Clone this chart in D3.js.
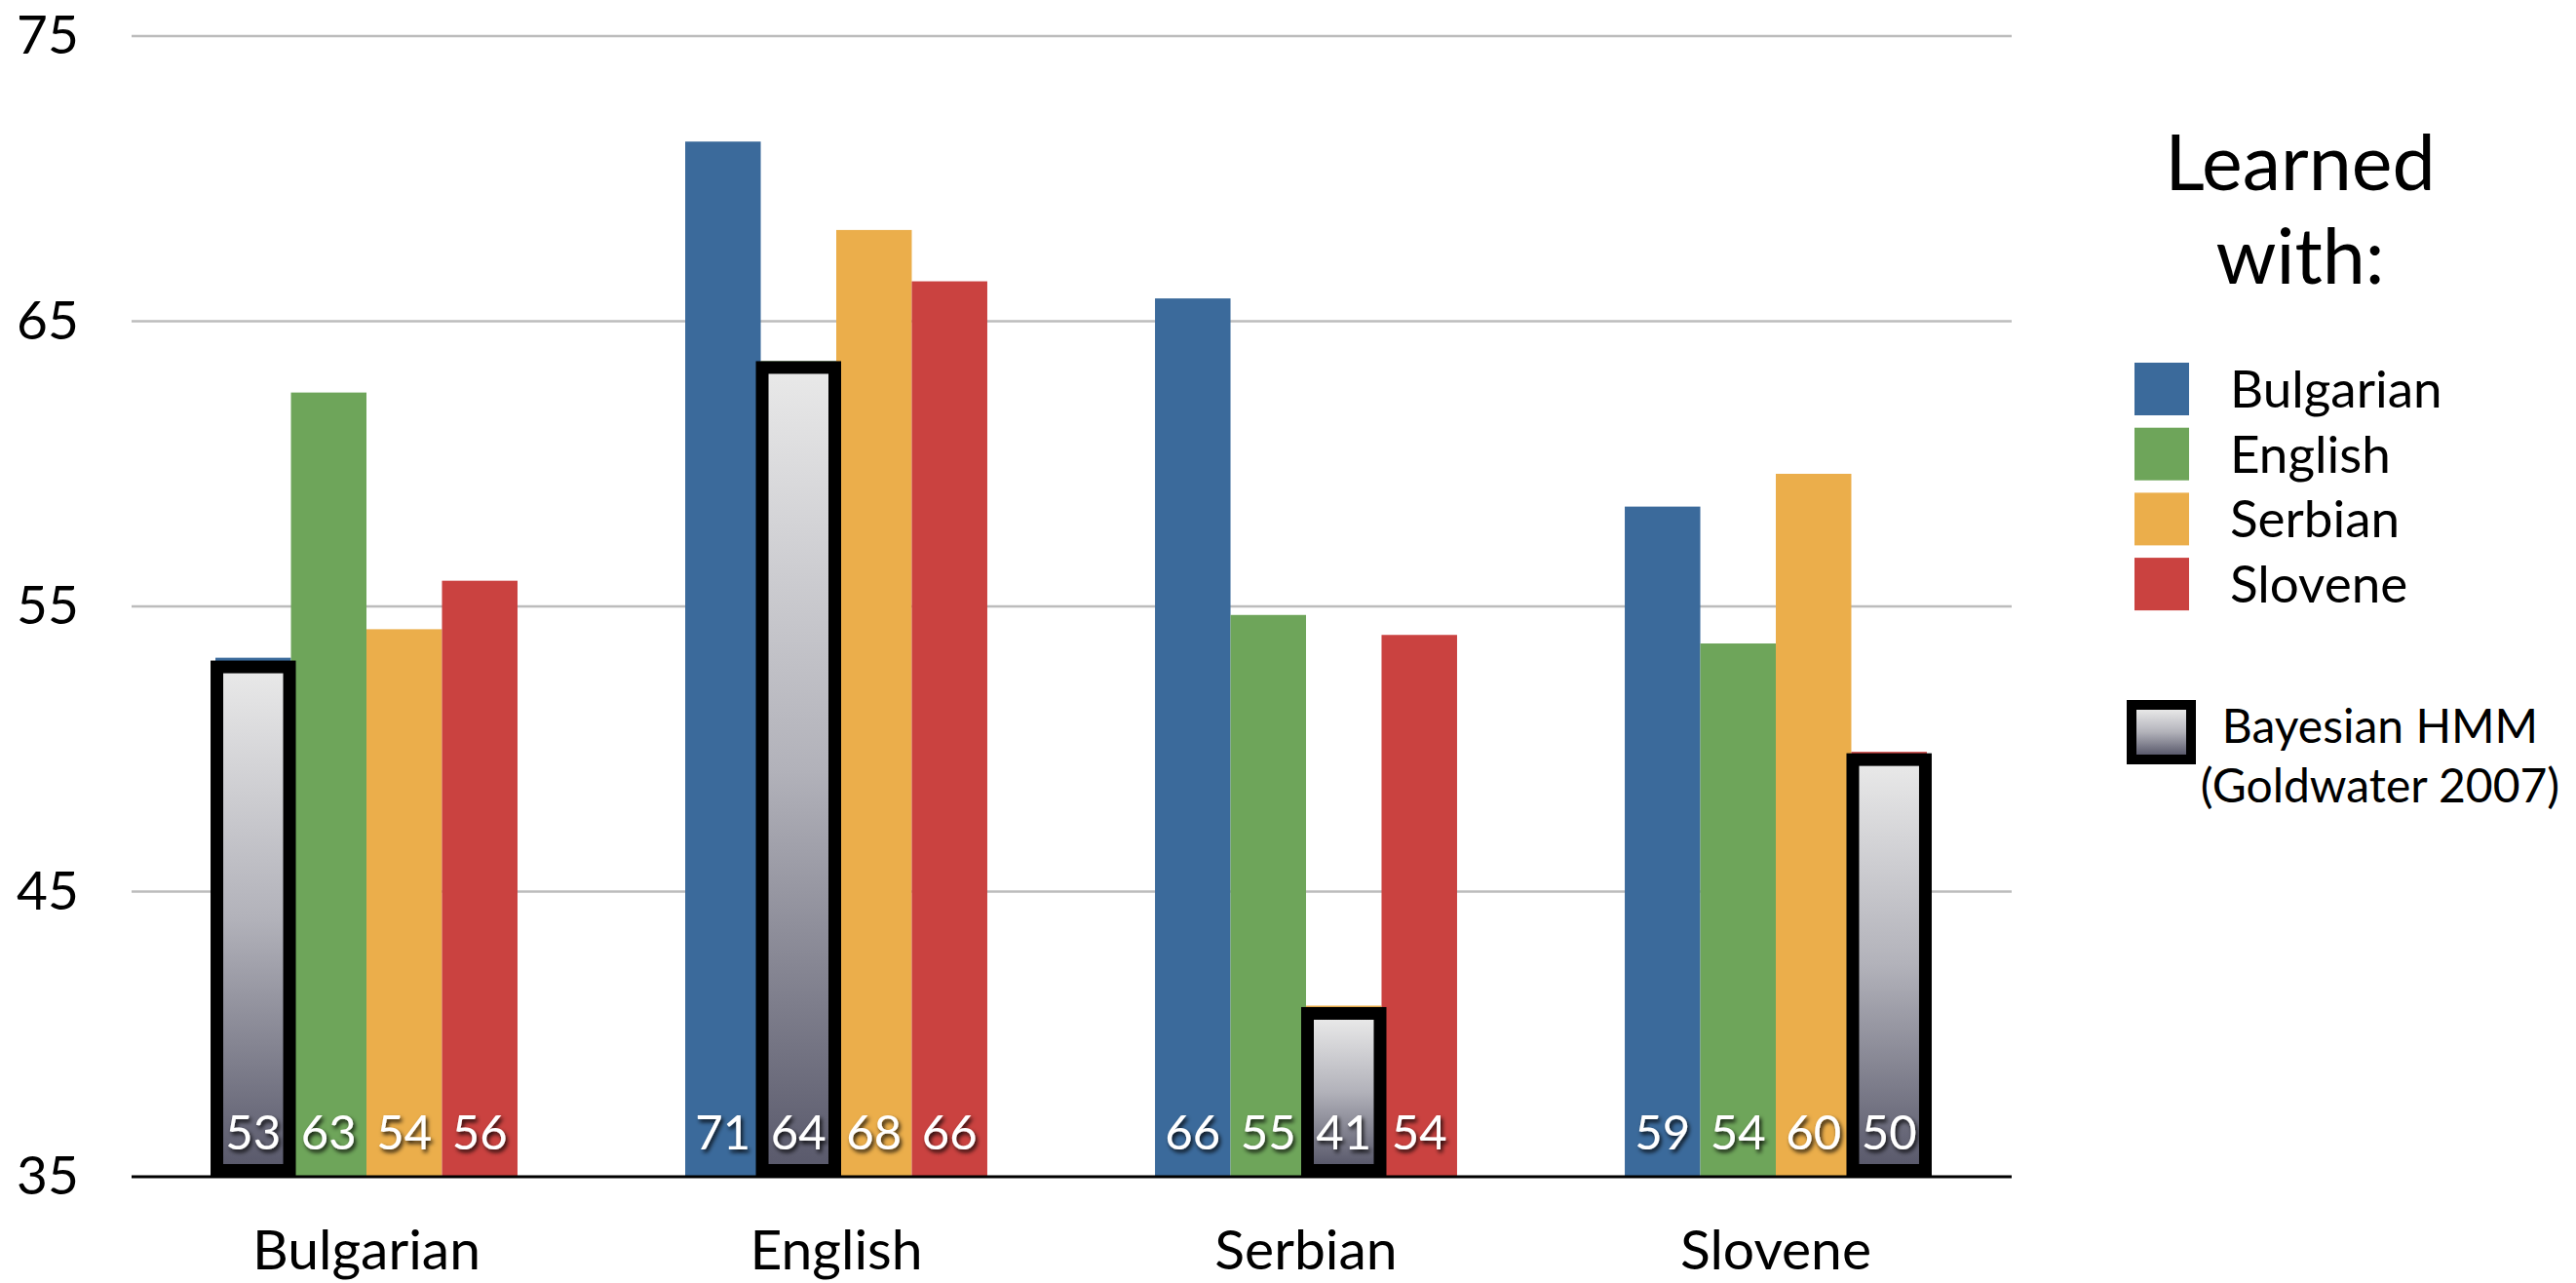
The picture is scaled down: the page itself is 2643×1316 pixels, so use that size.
<!DOCTYPE html>
<html>
<head>
<meta charset="utf-8">
<script src="https://cdn.jsdelivr.net/npm/d3@7"></script>
<style>
  body { margin: 0; background: #fff; }
  svg text { font-family: Lato, "Open Sans", sans-serif; }
</style>
</head>
<body>
<svg id="chart"></svg>
<script>
// test language groups along the x axis
const testLangs = ['Bulgarian', 'English', 'Serbian', 'Slovene'];
// "Learned with" series
const learnedWith = ['Bulgarian', 'English', 'Serbian', 'Slovene'];
const learnedBulgarian = [53.2, 71.3, 65.8, 58.5];
const learnedEnglish = [62.5, 63.6, 54.7, 53.7];
const learnedSerbian = [54.2, 68.2, 41.0, 59.65];
const learnedSlovene = [55.9, 66.4, 54.0, 49.9];
// Bayesian HMM baseline, drawn over the same-language bar
const hmmValues = [53.1, 63.6, 40.95, 49.85];
const yTicks = [35, 45, 55, 65, 75];
const seriesColors = ['#3b6a9b', '#6ea55a', '#ebae4b', '#ca4240'];

const width = 2643, height = 1316;
const margin = { top: 37, right: 580, bottom: 109, left: 135 };

const series = [learnedBulgarian, learnedEnglish, learnedSerbian, learnedSlovene];

const svg = d3.select('#chart')
    .attr('width', width)
    .attr('height', height);

const defs = svg.append('defs');
const grad = defs.append('linearGradient')
    .attr('id', 'hmmGrad')
    .attr('x1', 0).attr('y1', 0).attr('x2', 0).attr('y2', 1);
grad.append('stop').attr('offset', '0%').attr('stop-color', '#e8e8e8');
grad.append('stop').attr('offset', '50%').attr('stop-color', '#b2b2ba');
grad.append('stop').attr('offset', '100%').attr('stop-color', '#5a5a6c');

const shadow = defs.append('filter')
    .attr('id', 'txtShadow')
    .attr('x', '-30%').attr('y', '-30%')
    .attr('width', '160%').attr('height', '160%');
shadow.append('feDropShadow')
    .attr('dx', 2).attr('dy', 3)
    .attr('stdDeviation', 2.2)
    .attr('flood-color', '#000')
    .attr('flood-opacity', 0.85);

const x0 = d3.scaleBand()
    .domain(testLangs)
    .range([margin.left, width - margin.right])
    .paddingInner(0.357)
    .paddingOuter(0.1785);

const x1 = d3.scaleBand()
    .domain(learnedWith)
    .range([0, x0.bandwidth()]);

const y = d3.scaleLinear()
    .domain([35, 75])
    .range([height - margin.bottom, margin.top]);

const color = d3.scaleOrdinal(learnedWith, seriesColors);

// grid lines
svg.append('g')
    .selectAll('line')
    .data(yTicks.slice(1))
    .join('line')
    .attr('x1', margin.left)
    .attr('x2', width - margin.right + 1)
    .attr('y1', d => y(d))
    .attr('y2', d => y(d))
    .attr('stroke', '#bcbcbc')
    .attr('stroke-width', 2.5);

// y axis labels
const yAxis = svg.append('g')
    .attr('transform', `translate(${margin.left}, 0)`)
    .call(d3.axisLeft(y).tickValues(yTicks).tickSize(0).tickPadding(0));
yAxis.select('.domain').remove();
yAxis.selectAll('text')
    .attr('x', 49 - margin.left)
    .attr('text-anchor', 'middle')
    .attr('font-size', 55)
    .attr('fill', '#000');

// bars
const rows = [];
testLangs.forEach((t, i) => {
    learnedWith.forEach((l, j) => {
        rows.push({ test: t, learned: l, value: series[j][i], hmm: i === j ? hmmValues[i] : null });
    });
});

const groups = svg.append('g')
    .selectAll('g')
    .data(testLangs)
    .join('g')
    .attr('transform', d => `translate(${x0(d)}, 0)`);

groups.selectAll('rect.bar')
    .data(t => rows.filter(r => r.test === t))
    .join('rect')
    .attr('class', 'bar')
    .attr('x', d => x1(d.learned))
    .attr('width', x1.bandwidth())
    .attr('y', d => y(d.value))
    .attr('height', d => y(35) - y(d.value))
    .attr('fill', d => color(d.learned));

// Bayesian HMM boxes
const hmmRows = rows.filter(r => r.hmm !== null);
const border = 13;
const hmmG = groups.selectAll('g.hmm')
    .data(t => hmmRows.filter(r => r.test === t))
    .join('g')
    .attr('class', 'hmm');
hmmG.append('rect')
    .attr('x', d => x1(d.learned) - 5)
    .attr('width', x1.bandwidth() + 10)
    .attr('y', d => y(d.hmm))
    .attr('height', d => y(35) - y(d.hmm))
    .attr('fill', '#000');
hmmG.append('rect')
    .attr('x', d => x1(d.learned) - 5 + border)
    .attr('width', x1.bandwidth() + 10 - 2 * border)
    .attr('y', d => y(d.hmm) + border)
    .attr('height', d => y(35) - y(d.hmm) - 2 * border)
    .attr('fill', 'url(#hmmGrad)');

// value labels at the foot of each bar
groups.selectAll('text.val')
    .data(t => rows.filter(r => r.test === t))
    .join('text')
    .attr('class', 'val')
    .attr('x', d => x1(d.learned) + x1.bandwidth() / 2)
    .attr('y', 1179)
    .attr('text-anchor', 'middle')
    .attr('font-size', 49)
    .attr('fill', '#fff')
    .attr('filter', 'url(#txtShadow)')
    .text(d => Math.round(d.hmm !== null ? d.hmm : d.value));

// baseline
svg.append('line')
    .attr('x1', margin.left)
    .attr('x2', width - margin.right + 1)
    .attr('y1', y(35))
    .attr('y2', y(35))
    .attr('stroke', '#000')
    .attr('stroke-width', 3);

// category labels
svg.append('g')
    .selectAll('text')
    .data(testLangs)
    .join('text')
    .attr('x', d => x0(d) + x0.bandwidth() / 2)
    .attr('y', 1302)
    .attr('text-anchor', 'middle')
    .attr('font-size', 57)
    .attr('fill', '#000')
    .text(d => d);

// legend
const legend = svg.append('g');
legend.selectAll('text.title')
    .data(['Learned', 'with:'])
    .join('text')
    .attr('class', 'title')
    .attr('x', 2360)
    .attr('y', (d, i) => 195 + i * 96)
    .attr('text-anchor', 'middle')
    .attr('font-size', 79)
    .attr('fill', '#000')
    .text(d => d);

const item = legend.selectAll('g.item')
    .data(learnedWith)
    .join('g')
    .attr('class', 'item')
    .attr('transform', (d, i) => `translate(2190, ${372 + i * 66.7})`);
item.append('rect')
    .attr('width', 56)
    .attr('height', 54)
    .attr('fill', d => color(d));
item.append('text')
    .attr('x', 98)
    .attr('y', 46)
    .attr('font-size', 53)
    .attr('fill', '#000')
    .text(d => d);

const hmmKey = legend.append('g').attr('transform', 'translate(2182, 718)');
hmmKey.append('rect')
    .attr('width', 71).attr('height', 66).attr('fill', '#000');
hmmKey.append('rect')
    .attr('x', 10).attr('y', 10)
    .attr('width', 51).attr('height', 46)
    .attr('fill', 'url(#hmmGrad)');
legend.selectAll('text.hmmtxt')
    .data(['Bayesian HMM', '(Goldwater 2007)'])
    .join('text')
    .attr('class', 'hmmtxt')
    .attr('x', 2442)
    .attr('y', (d, i) => 762 + i * 61)
    .attr('text-anchor', 'middle')
    .attr('font-size', 48)
    .attr('fill', '#000')
    .text(d => d);
</script>
</body>
</html>
